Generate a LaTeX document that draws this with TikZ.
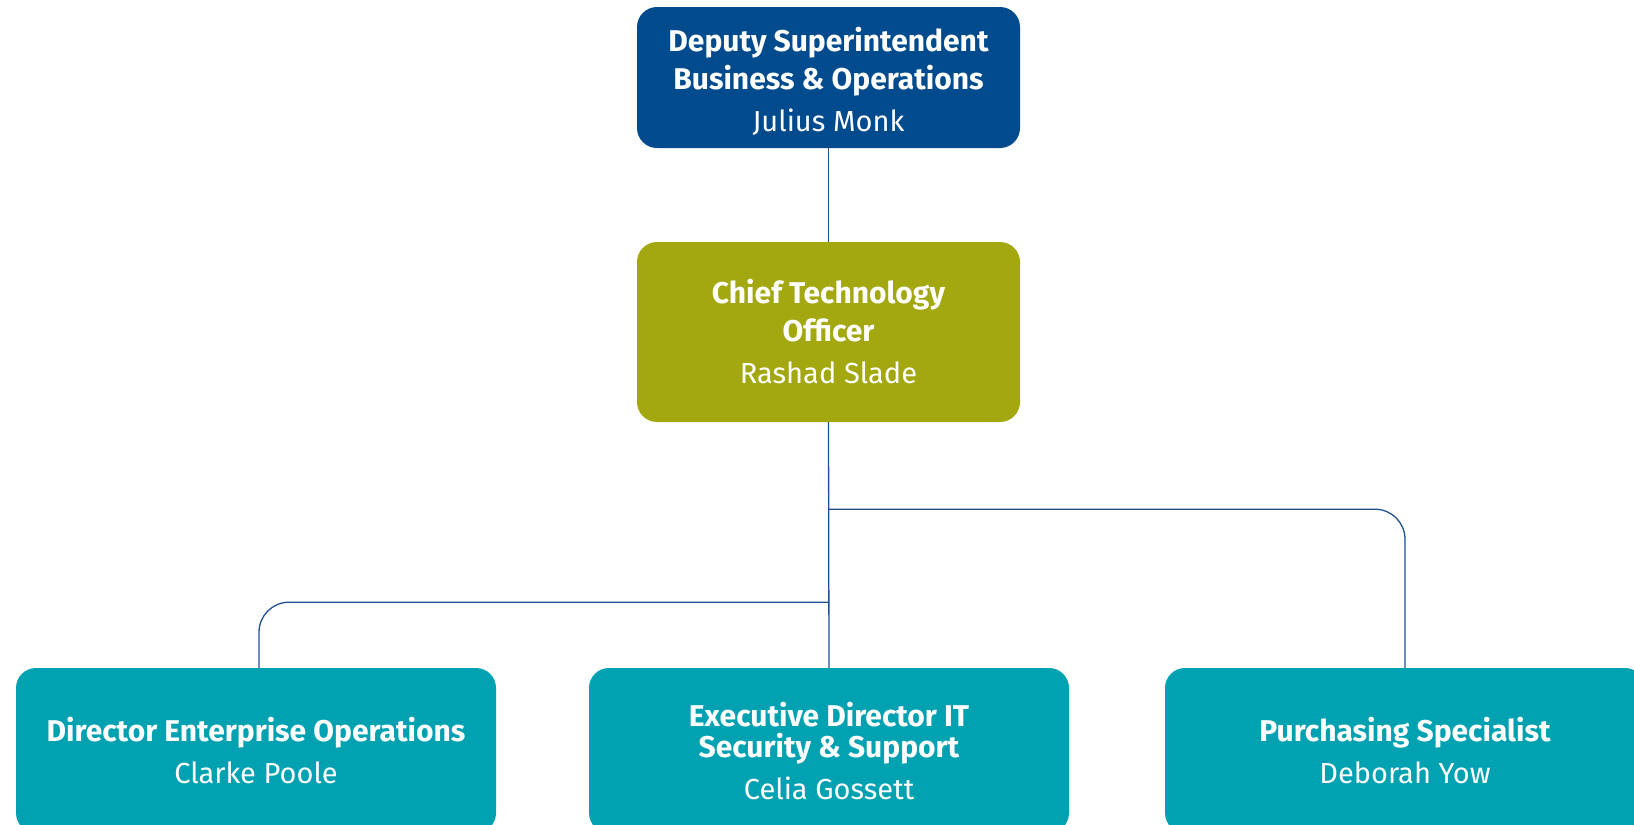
\documentclass[tikz,border=0pt]{standalone}
\usepackage{fontspec}
\setmainfont{Fira Sans}
\usepackage{tikz}
\usetikzlibrary{positioning}

\definecolor{deepblue}{RGB}{0,75,141}
\definecolor{olive}{RGB}{163,168,16}
\definecolor{teal}{RGB}{0,161,176}
\definecolor{linkblue}{RGB}{30,80,145}

\newcommand{\who}[1]{{\mdseries\fontsize{29}{35}\selectfont #1}}

\tikzset{
  box/.style={rounded corners=20pt, text=white, align=center, inner sep=0pt,
    font=\fontsize{30}{36}\selectfont\bfseries},
  topbox/.style={box, fill=deepblue, minimum width=383pt, minimum height=141pt},
  ctobox/.style={box, fill=olive, minimum width=383pt, minimum height=180pt},
  staffbox/.style={box, fill=teal, minimum width=480pt, minimum height=165pt},
  link/.style={draw=linkblue, line width=1.3pt, rounded corners=30pt},
}

\begin{document}
\begin{tikzpicture}[x=1pt,y=-1pt]
  \useasboundingbox (0,0) rectangle (1634,825);
  \node [topbox] (deputy) at (828.5,77.5) {\rule{0pt}{32pt}Deputy Superintendent\\[2pt]Business \& Operations\\[6pt]\who{Julius Monk}};
  \node [ctobox] (cto) at (828.5,332) {Chief Technology\\[2pt]Officer\\[6pt]\who{Rashad Slade}};
  \node [staffbox] (enterprise) at (256,750.5) {Director Enterprise Operations\\[6pt]\who{Clarke Poole}};
  \node [staffbox] (security) at (829,750.5) {Executive Director IT\\[-5pt]Security \& Support\\[6pt]\who{Celia Gossett}};
  \node [staffbox] (purchasing) at (1405,750.5) {Purchasing Specialist\\[6pt]\who{Deborah Yow}};
  \path (cto.south) ++(0,87) coordinate (rfork);
  \path (cto.south) ++(0,180) coordinate (lfork);
  \draw [link] (deputy.south) -- (cto.north);
  \draw [link] (cto.south) -- (security.north);
  \draw [link] (rfork) -| (purchasing.north);
  \draw [link] (lfork) -| ([xshift=3pt]enterprise.north);
\end{tikzpicture}
\end{document}
